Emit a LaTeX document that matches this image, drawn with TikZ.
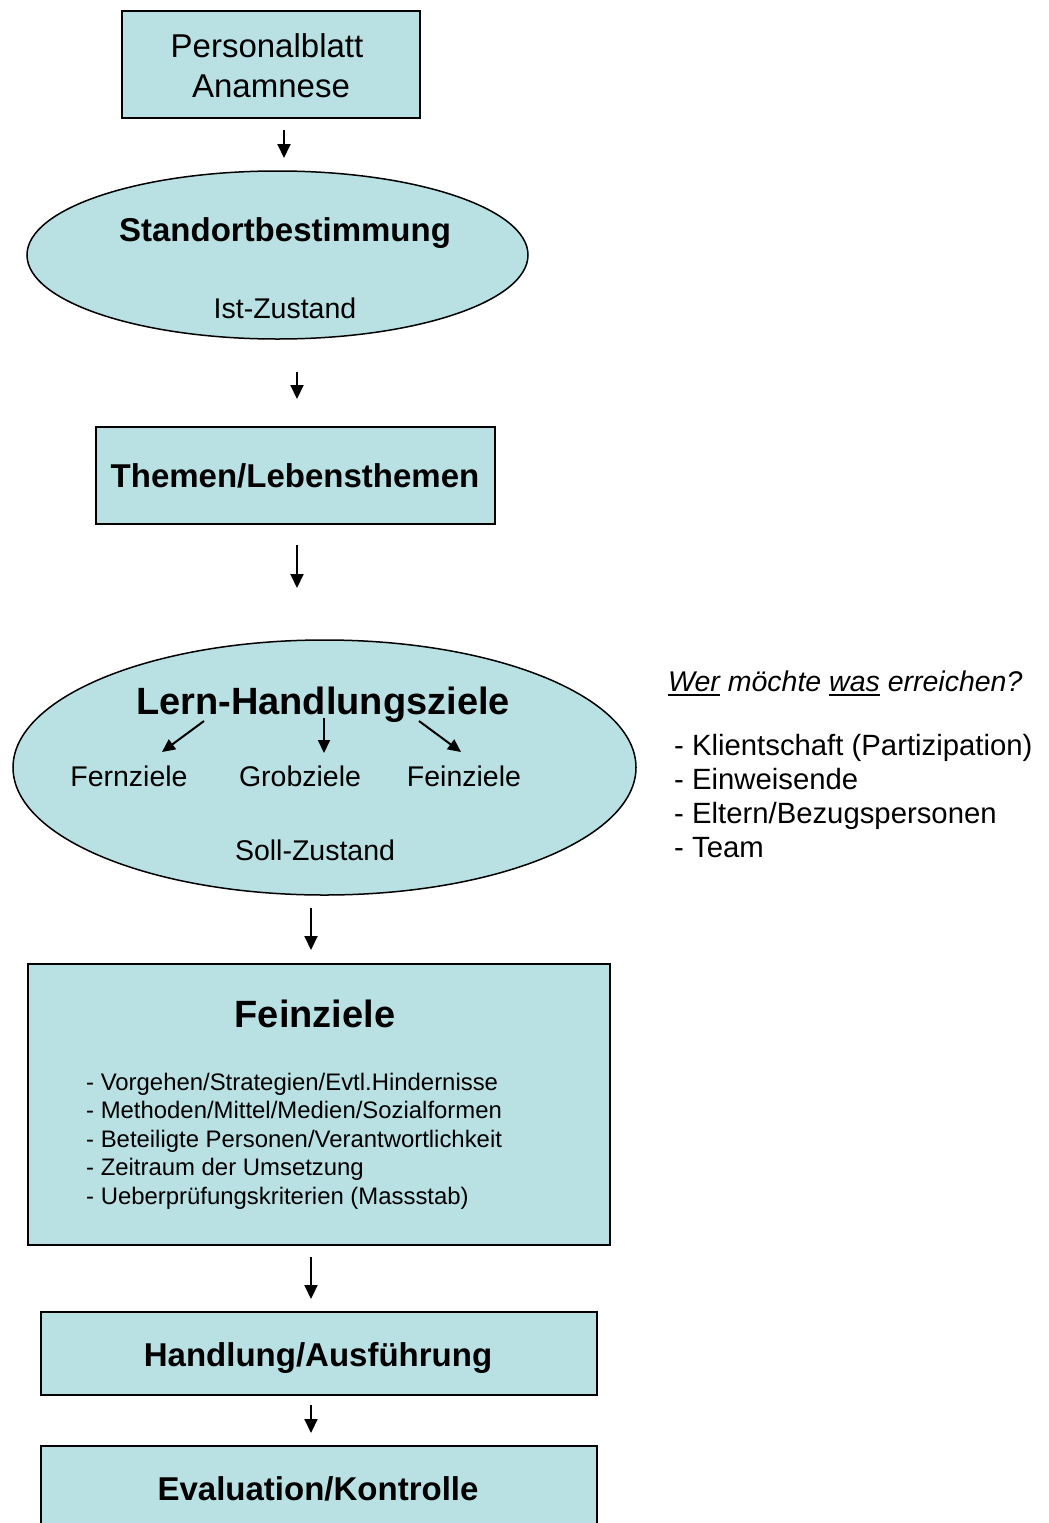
\documentclass[tikz,border=0pt]{standalone}
\usepackage{fontspec}
\setmainfont{Liberation Sans}
\usetikzlibrary{arrows.meta,shapes.geometric}
\definecolor{boxfill}{RGB}{185,224,227}
% underline drawn as a rule under the word
\newcommand\wordline[1]{\setbox0\hbox{#1}\rlap{\rule[-4.5pt]{\wd0}{1.6pt}}\box0{}}
\newcommand\fsBig{\fontsize{38}{44}\selectfont}
\newcommand\fsMid{\fontsize{33}{38}\selectfont}
\newcommand\fsSub{\fontsize{28.5}{33}\selectfont}
\newcommand\fsSide{\fontsize{29.3}{34}\selectfont}
\newcommand\fsList{\fontsize{23.9}{28.5}\selectfont}
\begin{document}
\begin{tikzpicture}[x=1pt,y=-1pt,
  flowbox/.style={draw=black, line width=1.5pt, fill=boxfill, rectangle,
    inner sep=0pt, anchor=north west},
  flowoval/.style={draw=black, line width=1.5pt, fill=boxfill, ellipse,
    inner sep=0pt},
  txt/.style={inner sep=0pt, anchor=base},
  ltxt/.style={inner sep=0pt, anchor=base west},
  arr/.style={-{Triangle[width=13pt,length=14pt]}, line width=2pt},
  subarr/.style={-{Triangle[width=12pt,length=13pt]}, line width=2pt}]
\clip (0,0) rectangle (1049,1523);
\fill[white] (0,0) rectangle (1049,1523);

% ---- shapes ----
\node[flowbox, minimum width=298pt, minimum height=107pt] (pers) at (121,10) {};
\node[flowoval, minimum width=501pt, minimum height=168pt] (stand) at (277.5,255) {};
\node[flowbox, minimum width=399pt, minimum height=97pt] (themen) at (95,426) {};
\node[flowoval, minimum width=623pt, minimum height=255pt] (lern) at (324.5,767.5) {};
\node[flowbox, minimum width=582pt, minimum height=281pt] (fein) at (27,963) {};
\node[flowbox, minimum width=556pt, minimum height=83pt] (handl) at (40,1311) {};
\node[flowbox, minimum width=556pt, minimum height=100pt] (eval) at (40,1445) {};

% ---- texts ----
\node[txt] (t-pers1) at (267,57) {\fsMid Personalblatt};
\node[txt] (t-pers2) at (271,97) {\fsMid Anamnese};
\node[txt] (t-stand) at (285,241) {\fsMid\bfseries Standortbestimmung};
\node[txt] (t-ist) at (285,318) {\fsSub Ist-Zustand};
\node[txt] (t-themen) at (295,487) {\fsMid\bfseries Themen/Lebensthemen};
\node[txt] (t-lern) at (323,714) {\fsBig\bfseries Lern-Handlungsziele};
\node[txt] (t-fern) at (129,786) {\fsSub Fernziele};
\node[txt] (t-grob) at (300,786) {\fsSub Grobziele};
\node[txt] (t-feinz) at (464,786) {\fsSub Feinziele};
\node[txt] (t-soll) at (315,860) {\fsSub Soll-Zustand};
\node[txt] (t-fein) at (315,1027) {\fsBig\bfseries Feinziele};
\node[ltxt] (l1) at (86,1090) {\fsList - Vorgehen/Strategien/Evtl.Hindernisse};
\node[ltxt] (l2) at (86,1118.5) {\fsList - Methoden/Mittel/Medien/Sozialformen};
\node[ltxt] (l3) at (86,1147) {\fsList - Beteiligte Personen/Verantwortlichkeit};
\node[ltxt] (l4) at (86,1175.5) {\fsList - Zeitraum der Umsetzung};
\node[ltxt] (l5) at (86,1204) {\fsList - Ueberprüfungskriterien (Massstab)};
\node[txt] (t-handl) at (318,1366) {\fsMid\bfseries Handlung/Ausführung};
\node[txt] (t-eval) at (318,1500) {\fsMid\bfseries Evaluation/Kontrolle};

% ---- side note ----
\node[ltxt] (q) at (668,691) {\fsSub\itshape \wordline{Wer} möchte \wordline{was} erreichen?};
\node[ltxt] (r1) at (674,755) {\fsSide - Klientschaft (Partizipation)};
\node[ltxt] (r2) at (674,789) {\fsSide - Einweisende};
\node[ltxt] (r3) at (674,823) {\fsSide - Eltern/Bezugspersonen};
\node[ltxt] (r4) at (674,857) {\fsSide - Team};

% ---- arrows ----
\coordinate (a1s) at (284,130);  \coordinate (a1e) at (284,158);
\coordinate (a2s) at (297,372);  \coordinate (a2e) at (297,399);
\coordinate (a3s) at (297,545);  \coordinate (a3e) at (297,588);
\coordinate (a4s) at (311,908);  \coordinate (a4e) at (311,950);
\coordinate (a5s) at (311,1257); \coordinate (a5e) at (311,1299);
\coordinate (a6s) at (311,1405); \coordinate (a6e) at (311,1433);
\foreach \i in {1,...,6} \draw[arr] (a\i s) -- (a\i e);

\coordinate (b1s) at (204,721); \coordinate (b1e) at (162,752);
\coordinate (b2s) at (324,718); \coordinate (b2e) at (324,753);
\coordinate (b3s) at (419,721); \coordinate (b3e) at (461,752);
\foreach \i in {1,2,3} \draw[subarr] (b\i s) -- (b\i e);
\end{tikzpicture}
\end{document}
